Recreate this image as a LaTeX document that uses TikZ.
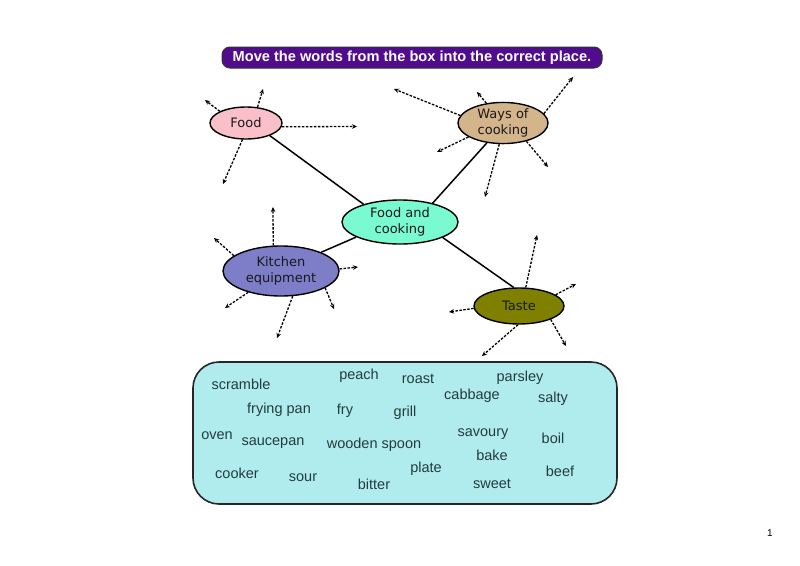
\documentclass[tikz,border=0pt]{standalone}
\usepackage{fontspec}
\setmainfont{Liberation Sans}
\newfontfamily\verd{DejaVu Sans}
\usetikzlibrary{shapes.geometric,arrows.meta}
\definecolor{titlec}{RGB}{80,12,140}
\definecolor{foodc}{RGB}{250,192,202}
\definecolor{waysc}{RGB}{212,180,138}
\definecolor{fcc}{RGB}{122,250,208}
\definecolor{kitc}{RGB}{125,125,200}
\definecolor{tastec}{RGB}{128,128,0}
\definecolor{boxc}{RGB}{176,236,238}
\definecolor{wordc}{RGB}{35,60,60}
\begin{document}
\begin{tikzpicture}[x=1pt,y=-1pt,
  bubble/.style={ellipse, draw=black, line width=1.4pt, inner sep=0pt, align=center,
    font=\verd\fontsize{13}{16.5}\selectfont, text=black!90},
  connect/.style={line width=1.5pt},
  darr/.style={line width=1.3pt, dash pattern=on 2.5pt off 1.5pt,
    -{Stealth[length=5pt,width=4.5pt]}},
  word/.style={font=\fontsize{14.5}{16}\selectfont, text=wordc, inner sep=0pt},
  titlebar/.style={draw=black!80, line width=1pt, fill=titlec, rounded corners=8pt,
    minimum width=380pt, minimum height=21pt, inner sep=0pt, text=white,
    font=\bfseries\fontsize{14.6}{16}\selectfont},
  wordbox/.style={draw=black!85, line width=1.6pt, fill=boxc, rounded corners=26pt,
    minimum width=424pt, minimum height=142pt, inner sep=0pt}]
\useasboundingbox[fill=white] (0,0) rectangle (800,565);

% title
\node[titlebar] (title) at (412,57.5) {Move the words from the box into the correct place.};

% bubbles
\node[bubble, fill=foodc, minimum width=72pt, minimum height=32pt] (food) at (246,123) {Food};
\node[bubble, fill=waysc, minimum width=90pt, minimum height=40pt] (ways) at (503,123) {Ways of\\cooking};
\node[bubble, fill=fcc, minimum width=116pt, minimum height=44pt] (fc) at (400,222) {Food and\\cooking};
\node[bubble, fill=kitc, minimum width=116pt, minimum height=50pt] (kit) at (281,271) {Kitchen\\equipment};
\node[bubble, fill=tastec, minimum width=90pt, minimum height=36pt] (taste) at (519,306) {Taste};

% solid connectors
\draw[connect] (food.332) -- (fc.154);
\draw[connect] (ways.231) -- (fc.30);
\draw[connect] (fc.199) -- (kit.25);
\draw[connect] (fc.340) -- (taste.106);

% free ends of dashed arrows
\coordinate (f1) at (263,89);
\coordinate (f2) at (205,100);
\coordinate (f3) at (357,126.5);
\coordinate (f4) at (223,184);
\coordinate (w1) at (394,89);
\coordinate (w2) at (477,92);
\coordinate (w3) at (573,77);
\coordinate (w4) at (437,152);
\coordinate (w5) at (485,197);
\coordinate (w6) at (548,167);
\coordinate (k1) at (273,207);
\coordinate (k2) at (214,238);
\coordinate (k3) at (358,267);
\coordinate (k4) at (225,308);
\coordinate (k5) at (277,338);
\coordinate (k6) at (334,309);
\coordinate (t1) at (537,235);
\coordinate (t2) at (576,284);
\coordinate (t3) at (449,312);
\coordinate (t4) at (566,346);
\coordinate (t5) at (482,356);

% dashed arrows
\draw[darr] (food.54) -- (f1);
\draw[darr] (food.156) -- (f2);
\draw[darr] (food.354) -- (f3);
\draw[darr] (food.258) -- (f4);
\draw[darr] (ways.170) -- (w1);
\draw[darr] (ways.130) -- (w2);
\draw[darr] (ways.13) -- (w3);
\draw[darr] (ways.202) -- (w4);
\draw[darr] (ways.260) -- (w5);
\draw[darr] (ways.322) -- (w6);
\draw[darr] (kit.107) -- (k1);
\draw[darr] (kit.162) -- (k2);
\draw[darr] (kit.2) -- (k3);
\draw[darr] (kit.213) -- (k4);
\draw[darr] (kit.295) -- (k5);
\draw[darr] (kit.339) -- (k6);
\draw[darr] (taste.70) -- (t1);
\draw[darr] (taste.17) -- (t2);
\draw[darr] (taste.183) -- (t3);
\draw[darr] (taste.337) -- (t4);
\draw[darr] (taste.267) -- (t5);

% word box
\node[wordbox] (box) at (405,433) {};
\node[word] (w-scramble) at (241,384) {scramble};
\node[word] (w-peach) at (359,376) {peach};
\node[word] (w-roast) at (418,379) {roast};
\node[word] (w-parsley) at (520,378) {parsley};
\node[word] (w-cabbage) at (472,396) {cabbage};
\node[word] (w-salty) at (553,399) {salty};
\node[word] (w-fryingpan) at (279,410) {frying pan};
\node[word] (w-fry) at (345,411) {fry};
\node[word] (w-grill) at (405,413) {grill};
\node[word] (w-oven) at (217,436) {oven};
\node[word] (w-saucepan) at (273,443) {saucepan};
\node[word] (w-woodenspoon) at (374,445) {wooden spoon};
\node[word] (w-savoury) at (483,434) {savoury};
\node[word] (w-boil) at (553,438) {boil};
\node[word] (w-bake) at (492,455) {bake};
\node[word] (w-cooker) at (237,473) {cooker};
\node[word] (w-sour) at (303,478) {sour};
\node[word] (w-plate) at (426,469) {plate};
\node[word] (w-bitter) at (374,484) {bitter};
\node[word] (w-sweet) at (492,484) {sweet};
\node[word] (w-beef) at (560,471) {beef};

% page number
\node[font=\fontsize{10}{12}\selectfont] (pnum) at (770,533) {1};
\end{tikzpicture}
\end{document}
